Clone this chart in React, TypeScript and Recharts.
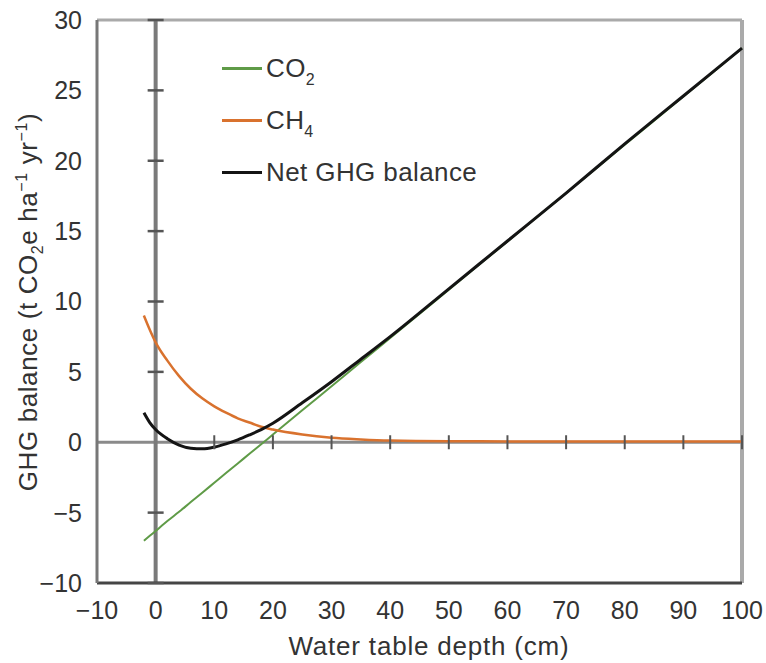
import React from 'react';
import {
  LineChart,
  Line,
  XAxis,
  YAxis,
  ReferenceLine,
  ReferenceDot,
  Legend,
} from 'recharts';

// water table depth (cm) and fluxes (t CO2e / ha / yr)
const depth = [-2, -1, 0, 2, 4, 6, 8, 10, 12, 14, 16, 18, 20, 25, 30, 35, 40, 50, 60, 70, 80, 90, 100];
const co2 = [-7.0, -6.65, -6.3, -5.6, -4.94, -4.25, -3.57, -2.88, -2.19, -1.51, -0.82, -0.14, 0.55, 2.27, 3.98, 5.7, 7.41, 10.84, 14.27, 17.7, 21.13, 24.56, 27.99];
const ch4 = [9.0, 8.0, 7.1, 5.8, 4.7, 3.8, 3.1, 2.55, 2.1, 1.7, 1.4, 1.1, 0.9, 0.55, 0.32, 0.2, 0.12, 0.07, 0.06, 0.05, 0.05, 0.05, 0.05];
const net = [2.1, 1.4, 0.9, 0.25, -0.2, -0.42, -0.47, -0.35, -0.12, 0.17, 0.52, 0.9, 1.35, 2.8, 4.3, 5.9, 7.5, 10.9, 14.3, 17.7, 21.2, 24.6, 28.0];

const xTicks = [-10, 0, 10, 20, 30, 40, 50, 60, 70, 80, 90, 100];
const yTicks = [-10, -5, 0, 5, 10, 15, 20, 25, 30];
const xZeroTicks = [10, 20, 30, 40, 50, 60, 70, 80, 90, 100];
const yZeroTicks = [-10, -5, 5, 10, 15, 20, 25, 30];

const series = [
  { key: 'co2', name: 'CO2', color: '#5f9b47', width: 2 },
  { key: 'ch4', name: 'CH4', color: '#d9722e', width: 2.5 },
  { key: 'net', name: 'Net GHG balance', color: '#141414', width: 3 },
];

const data = depth.map((d, i) => ({ depth: d, co2: co2[i], ch4: ch4[i], net: net[i] }));

const FONT = '"Liberation Sans", Arial, Helvetica, sans-serif';
const fmt = (v: number) => String(v).replace('-', '\u2212');

const renderName = (name: string) => {
  const m = name.match(/^(C[OH])(\d)$/);
  if (!m) return name;
  return (
    <>
      {m[1]}
      <span style={{ fontSize: 16, position: 'relative', top: 8 }}>{m[2]}</span>
    </>
  );
};

const LegendBox = () => (
  <div style={{ fontFamily: FONT, fontSize: 26, color: '#333', letterSpacing: 0.4 }}>
    {series.map((s) => (
      <div key={s.key} style={{ display: 'flex', alignItems: 'center', height: 52 }}>
        <span
          style={{
            display: 'inline-block',
            width: 40,
            height: 0,
            borderTop: `3px solid ${s.color}`,
            marginRight: 4,
          }}
        />
        <span>{renderName(s.name)}</span>
      </div>
    ))}
  </div>
);

const XTitle = () => (
  <text x={421} y={647} textAnchor="middle" fontFamily={FONT} fontSize={26} fill="#333" letterSpacing={0.8}>
    Water table depth (cm)
  </text>
);

const YTitle = () => (
  <text
    x={29}
    y={294}
    transform="rotate(-90, 29, 294)"
    textAnchor="middle"
    fontFamily={FONT}
    fontSize={26}
    fill="#333"
    letterSpacing={0.6}
  >
    GHG balance (t CO
    <tspan dy={6} fontSize={16}>2</tspan>
    <tspan dy={-6}>e ha</tspan>
    <tspan dy={-10} fontSize={16}>{'\u22121'}</tspan>
    <tspan dy={10}> yr</tspan>
    <tspan dy={-10} fontSize={16}>{'\u22121'}</tspan>
    <tspan dy={10}>)</tspan>
  </text>
);

const tickStyle = { fontSize: 25, fill: '#333', fontFamily: FONT };

export default function App() {
  return (
    <div style={{ width: 766, height: 663, padding: 8, boxSizing: 'border-box' }}>
      <style>{'body { margin: 0; }'}</style>
      <LineChart width={758} height={655} data={data} margin={{ top: 12, right: 24, bottom: 0, left: 0 }}>
        <XAxis
          dataKey="depth"
          type="number"
          domain={[-10, 100]}
          ticks={xTicks}
          interval={0}
          tickFormatter={fmt}
          tickLine={false}
          tickSize={0}
          tickMargin={18}
          tick={tickStyle}
          axisLine={{ stroke: '#454545', strokeWidth: 3 }}
          height={80}
          label={{ content: () => <XTitle /> }}
        />
        <YAxis
          type="number"
          domain={[-10, 30]}
          ticks={yTicks}
          interval={0}
          tickFormatter={fmt}
          tickLine={false}
          tickSize={0}
          tickMargin={15}
          tick={tickStyle}
          axisLine={{ stroke: '#777', strokeWidth: 3 }}
          width={89}
          label={{ content: () => <YTitle /> }}
        />
        <ReferenceLine y={30} stroke="#aaa" strokeWidth={3} />
        <ReferenceLine x={100} stroke="#aaa" strokeWidth={4} />
        <ReferenceLine y={0} stroke="#8a8a8a" strokeWidth={3} />
        <ReferenceLine x={0} stroke="#7a7a7a" strokeWidth={4} />
        {xZeroTicks.map((t) => (
          <ReferenceDot
            key={`xt${t}`}
            x={t}
            y={0}
            r={0}
            shape={(p: any) => (
              <line x1={p.cx} x2={p.cx} y1={p.cy - 7} y2={p.cy + 7} stroke="#555" strokeWidth={2} />
            )}
          />
        ))}
        {yZeroTicks.map((t) => (
          <ReferenceDot
            key={`yt${t}`}
            x={0}
            y={t}
            r={0}
            shape={(p: any) => (
              <line x1={p.cx - 8} x2={p.cx + 8} y1={p.cy} y2={p.cy} stroke="#555" strokeWidth={2.5} />
            )}
          />
        ))}
        {series.map((s) => (
          <Line
            key={s.key}
            type="monotone"
            dataKey={s.key}
            name={s.name}
            stroke={s.color}
            strokeWidth={s.width}
            dot={false}
            activeDot={false}
            isAnimationActive={false}
          />
        ))}
        <Legend
          layout="vertical"
          align="center"
          verticalAlign="middle"
          wrapperStyle={{ top: 34, left: 214, width: 300 }}
          content={() => <LegendBox />}
        />
      </LineChart>
    </div>
  );
}
